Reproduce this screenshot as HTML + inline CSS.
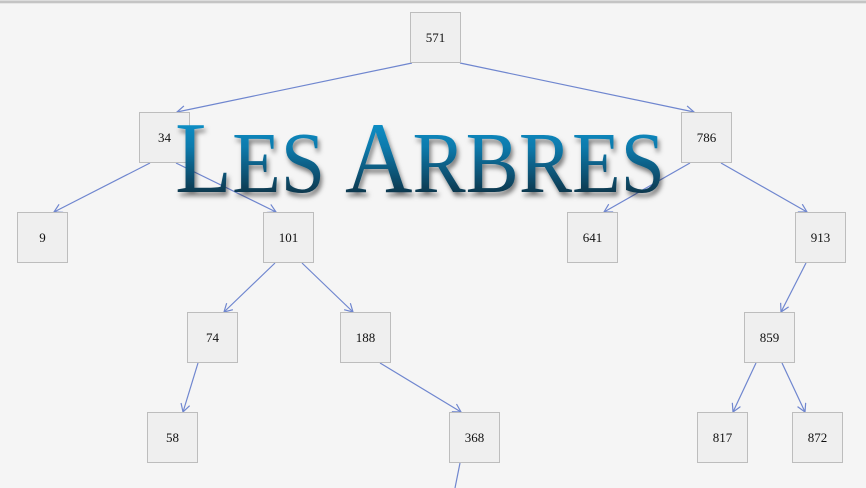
<!DOCTYPE html>
<html><head><meta charset="utf-8"><style>
html,body{margin:0;padding:0;}
body{width:866px;height:488px;overflow:hidden;background:#f5f5f5;}
svg{display:block;}
</style></head><body>
<svg width="866" height="488" viewBox="0 0 866 488" xmlns="http://www.w3.org/2000/svg">
<defs>
<marker id="a" markerWidth="12" markerHeight="12" refX="9" refY="5" orient="auto" markerUnits="userSpaceOnUse">
<path d="M1,0.5 L9,5 L1,9.5" fill="none" stroke="#6f86cf" stroke-width="1.2"/>
</marker>
<linearGradient id="g" x1="0" y1="0" x2="0" y2="1">
<stop offset="0" stop-color="#0aa0dc"/>
<stop offset="0.4" stop-color="#0a7aac"/>
<stop offset="1" stop-color="#111820"/>
</linearGradient>
<filter id="sh" x="-5%" y="-20%" width="110%" height="150%">
<feDropShadow dx="2" dy="4" stdDeviation="2.5" flood-color="#000" flood-opacity="0.5"/>
</filter>
</defs>
<rect x="0" y="0" width="866" height="1" fill="#dcdcdc"/>
<rect x="0" y="1" width="866" height="2" fill="#c4c4c4"/>
<rect x="0" y="3" width="866" height="1" fill="#e6e6e6"/>
<g stroke="#6f86cf" stroke-width="1.2" fill="none" marker-end="url(#a)">
<line x1="412" y1="63" x2="177" y2="112"/>
<line x1="460" y1="63" x2="694" y2="112"/>
<line x1="150" y1="163" x2="54" y2="212"/>
<line x1="176" y1="163" x2="276" y2="212"/>
<line x1="690" y1="163" x2="604" y2="212"/>
<line x1="721" y1="163" x2="807" y2="212"/>
<line x1="275" y1="263" x2="224" y2="312"/>
<line x1="302" y1="263" x2="353" y2="312"/>
<line x1="806" y1="263" x2="781" y2="312"/>
<line x1="198" y1="363" x2="183" y2="412"/>
<line x1="380" y1="363" x2="461" y2="412"/>
<line x1="756" y1="363" x2="733" y2="412"/>
<line x1="782" y1="363" x2="805" y2="412"/>
</g>
<line x1="460" y1="463" x2="455" y2="488" stroke="#6f86cf" stroke-width="1.2"/>
<g fill="#efefef" stroke="#bdbdbd" stroke-width="1">
<rect x="410.5" y="12.5" width="50" height="50"/>
<rect x="139.5" y="112.5" width="50" height="50"/>
<rect x="681.5" y="112.5" width="50" height="50"/>
<rect x="17.5" y="212.5" width="50" height="50"/>
<rect x="263.5" y="212.5" width="50" height="50"/>
<rect x="567.5" y="212.5" width="50" height="50"/>
<rect x="795.5" y="212.5" width="50" height="50"/>
<rect x="187.5" y="312.5" width="50" height="50"/>
<rect x="340.5" y="312.5" width="50" height="50"/>
<rect x="744.5" y="312.5" width="50" height="50"/>
<rect x="147.5" y="412.5" width="50" height="50"/>
<rect x="449.5" y="412.5" width="50" height="50"/>
<rect x="697.5" y="412.5" width="50" height="50"/>
<rect x="792.5" y="412.5" width="50" height="50"/>
</g>
<g font-family="Liberation Serif, serif" font-size="13" fill="#111" text-anchor="middle">
<text x="435.5" y="42">571</text>
<text x="164.5" y="142">34</text>
<text x="706.5" y="142">786</text>
<text x="42.5" y="242">9</text>
<text x="288.5" y="242">101</text>
<text x="592.5" y="242">641</text>
<text x="820.5" y="242">913</text>
<text x="212.5" y="342">74</text>
<text x="365.5" y="342">188</text>
<text x="769.5" y="342">859</text>
<text x="172.5" y="442">58</text>
<text x="474.5" y="442">368</text>
<text x="722.5" y="442">817</text>
<text x="817.5" y="442">872</text>
</g>
<text x="175" y="192" font-family="Liberation Serif, serif" font-size="87" fill="url(#g)" filter="url(#sh)" textLength="490" lengthAdjust="spacingAndGlyphs"><tspan font-size="102">L</tspan>ES <tspan font-size="102">A</tspan>RBRES</text>
</svg>
</body></html>
